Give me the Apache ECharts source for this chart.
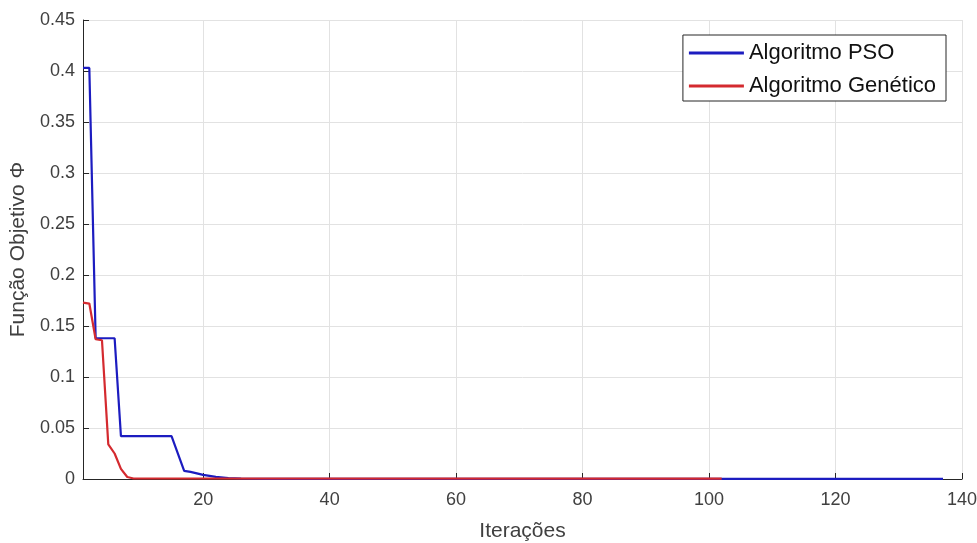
<!DOCTYPE html>
<html>
<head>
<meta charset="utf-8">
<script src="https://cdn.jsdelivr.net/npm/echarts@6/dist/echarts.min.js"></script>
<style>html,body{margin:0;padding:0;background:#fff;}#c{width:977px;height:543px;}</style>
</head>
<body>
<div id="c"></div>
<script>
const seriesNames = ['Algoritmo PSO', 'Algoritmo Genético'];
const psoX = [1, 2, 3, 6, 7, 15, 17, 18, 20, 21, 22, 24, 26, 30, 137];
const psoY = [0.403, 0.403, 0.138, 0.138, 0.042, 0.042, 0.008, 0.007, 0.004, 0.003, 0.002, 0.001, 0.0005, 0.0002, 0.0002];
const gaX = [1, 2, 3, 4, 5, 6, 7, 8, 9, 102];
const gaY = [0.173, 0.172, 0.137, 0.136, 0.034, 0.025, 0.010, 0.002, 0.0005, 0.0003];
const xTicks = [20, 40, 60, 80, 100, 120, 140];
const xLabel = 'Iterações';
const yLabel = 'Função Objetivo Φ';

const pso = psoX.map((x, i) => [x, psoY[i]]);
const ga = gaX.map((x, i) => [x, gaY[i]]);
const font = 'Liberation Sans, Arial, Helvetica, sans-serif';
const chart = echarts.init(document.getElementById('c'), null, {renderer: 'canvas'});
chart.setOption({
  animation: false,
  backgroundColor: '#ffffff',
  grid: {left: 83, right: 15, top: 20, bottom: 64, containLabel: false, outerBoundsMode: 'none'},
  legend: {
    right: 31, top: 35,
    orient: 'vertical',
    itemWidth: 55, itemHeight: 3, itemGap: 11,
    padding: [7, 10, 4, 6],
    borderColor: '#262626', borderWidth: 1, borderRadius: 0,
    backgroundColor: '#ffffff',
    icon: 'rect',
    textStyle: {fontFamily: font, fontSize: 22, color: '#111'},
    data: seriesNames
  },
  xAxis: {
    type: 'value', min: 1, max: 140,
    name: xLabel, nameLocation: 'middle', nameGap: 42,
    nameTextStyle: {fontFamily: font, fontSize: 21, color: '#404040'},
    axisLine: {show: true, onZero: false, lineStyle: {color: '#262626', width: 1}},
    axisTick: {show: true, inside: true, length: 6, customValues: xTicks, lineStyle: {color: '#262626'}},
    axisLabel: {customValues: xTicks, fontFamily: font, fontSize: 18, color: '#404040', margin: 12},
    splitLine: {show: true, lineStyle: {color: '#e2e2e2', width: 1}}
  },
  yAxis: {
    type: 'value', min: 0, max: 0.45, interval: 0.05,
    name: yLabel, nameLocation: 'middle', nameGap: 49,
    nameTextStyle: {fontFamily: font, fontSize: 21, color: '#404040'},
    axisLine: {show: true, lineStyle: {color: '#262626', width: 1}},
    axisTick: {show: true, inside: true, length: 6, lineStyle: {color: '#262626'}},
    axisLabel: {fontFamily: font, fontSize: 18, color: '#404040', margin: 8},
    splitLine: {show: true, lineStyle: {color: '#e2e2e2', width: 1}}
  },
  series: [
    {name: seriesNames[0], type: 'line', data: pso, showSymbol: false, symbol: 'none',
     lineStyle: {color: '#1c1cc0', width: 2.2}, itemStyle: {color: '#1c1cc0'}, z: 2},
    {name: seriesNames[1], type: 'line', data: ga, showSymbol: false, symbol: 'none',
     lineStyle: {color: '#d42a2f', width: 2.2}, itemStyle: {color: '#d42a2f'}, z: 3}
  ]
});
</script>
</body>
</html>
